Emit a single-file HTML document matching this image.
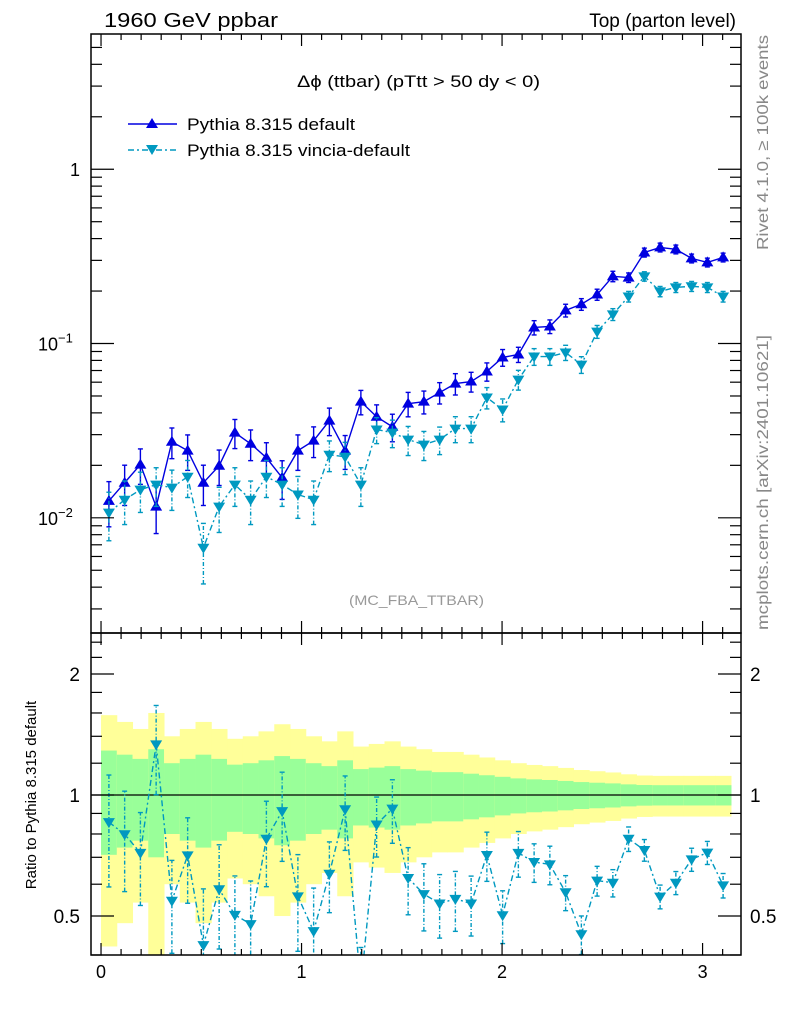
<!DOCTYPE html>
<html><head><meta charset="utf-8"><style>
html,body{margin:0;padding:0;background:#fff;}
svg{display:block;font-family:"Liberation Sans",sans-serif;}
</style></head><body>
<svg id="chart" width="786" height="1024" viewBox="0 0 786 1024" xmlns="http://www.w3.org/2000/svg">
<text x="104" y="27" font-size="20" textLength="174" lengthAdjust="spacingAndGlyphs">1960 GeV ppbar</text>
<text x="736" y="27" font-size="19" text-anchor="end">Top (parton level)</text>
<text x="297" y="87" font-size="17" textLength="243" lengthAdjust="spacingAndGlyphs">Δϕ (ttbar) (pTtt &gt; 50 dy &lt; 0)</text>
<text x="349" y="605" font-size="14" fill="#999" textLength="135" lengthAdjust="spacingAndGlyphs">(MC_FBA_TTBAR)</text>
<text transform="translate(768,250) rotate(-90)" font-size="16" fill="#888" textLength="215" lengthAdjust="spacingAndGlyphs">Rivet 4.1.0, ≥ 100k events</text>
<text transform="translate(768,630) rotate(-90)" font-size="16" fill="#888" textLength="295" lengthAdjust="spacingAndGlyphs">mcplots.cern.ch [arXiv:2401.10621]</text>
<text transform="translate(36,795) rotate(-90)" font-size="15" text-anchor="middle">Ratio to Pythia 8.315 default</text>
<g id="legend">
 <g>
  <line x1="128" y1="124" x2="177" y2="124" stroke="#0000e0" stroke-width="1.5"/>
  <polygon points="152,118 146,128 158,128" fill="#0000e0"/>
  <text x="187" y="130" font-size="17" textLength="168" lengthAdjust="spacingAndGlyphs">Pythia 8.315 default</text>
 </g>
 <g>
  <line x1="128" y1="150" x2="177" y2="150" stroke="#0099c0" stroke-width="1.5" stroke-dasharray="6,3,2,3"/>
  <polygon points="146,145 158,145 152,155" fill="#0099c0"/>
  <text x="187" y="156" font-size="17" textLength="223" lengthAdjust="spacingAndGlyphs">Pythia 8.315 vincia-default</text>
 </g>
</g>
<g id="plot"></g>
</svg>
<script>
const binCount = [40];
const xTicks = [0, 1, 2, 3];
const mainYTickLabels = ["1", "10", "10"];
const defaultVals = [0.0125,0.0159,0.0202,0.0116,0.0273,0.0243,0.0159,0.0199,0.0308,0.0266,0.0221,0.0170,0.0243,0.0277,0.0361,0.0243,0.0464,0.0380,0.0333,0.0452,0.0464,0.0523,0.0589,0.0605,0.0691,0.0832,0.0865,0.1236,0.1253,0.155,0.168,0.191,0.243,0.239,0.333,0.356,0.347,0.308,0.292,0.312];
const vinciaVals = [0.0107,0.0127,0.0145,0.0155,0.0149,0.0172,0.00673,0.0116,0.0155,0.0127,0.0172,0.0155,0.0136,0.0127,0.0230,0.0224,0.0155,0.0321,0.0308,0.0281,0.0263,0.0281,0.0325,0.0325,0.0490,0.0418,0.0621,0.0842,0.0842,0.0888,0.0757,0.117,0.147,0.186,0.243,0.199,0.210,0.213,0.210,0.186];
const defaultRelErr = [0.29,0.26,0.23,0.30,0.20,0.23,0.26,0.23,0.19,0.20,0.22,0.25,0.23,0.20,0.18,0.22,0.16,0.17,0.18,0.16,0.15,0.14,0.14,0.13,0.12,0.11,0.10,0.094,0.09,0.084,0.077,0.073,0.069,0.063,0.059,0.058,0.058,0.058,0.058,0.058];
const vinciaRelErr = [0.31,0.28,0.26,0.25,0.26,0.24,0.38,0.29,0.25,0.28,0.24,0.25,0.27,0.28,0.2,0.21,0.25,0.17,0.18,0.19,0.19,0.18,0.17,0.17,0.14,0.15,0.13,0.11,0.11,0.1,0.11,0.085,0.078,0.07,0.062,0.068,0.066,0.066,0.066,0.07];

const NS = "http://www.w3.org/2000/svg";
const L = 91, R = 741, T = 34, MB = 633, RB = 955;
const xMin = -0.05, xMax = Math.PI + 0.05;
const sx = v => L + (v - xMin) / (xMax - xMin) * (R - L);
const yMainTop = 0.776, yMainBot = -2.661;
const sy = v => T + (yMainTop - Math.log10(v)) / (yMainTop - yMainBot) * (MB - T);
const rTop = 1.339, rBot = -1.322;
const sr = v => MB + (rTop - Math.log2(v)) / (rTop - rBot) * (RB - MB);
const plot = document.getElementById('plot');
function mk(tag, attrs, parent) {
  const e = document.createElementNS(NS, tag);
  for (const k in attrs) e.setAttribute(k, attrs[k]);
  (parent || plot).appendChild(e);
  return e;
}
const N = binCount[0];
const bw = Math.PI / N;
const centers = [];
for (let i = 0; i < N; i++) centers.push((i + 0.5) * bw);

const defs = mk('defs', {});
const c1 = mk('clipPath', {id: 'cm'}, defs); mk('rect', {x: L, y: T, width: R - L, height: MB - T}, c1);
const c2 = mk('clipPath', {id: 'cr'}, defs); mk('rect', {x: L, y: MB, width: R - L, height: RB - MB}, c2);

const bands = mk('g', {'clip-path': 'url(#cr)'});


for (let i = 0; i < N; i++) {
  const x0 = sx(i * bw), x1 = sx((i + 1) * bw);
  const s = defaultRelErr[i];
  const y2a = sr(1 + 2 * s), y2b = sr(Math.max(1 - 2 * s, 0.01));
  const yb = mk('rect', {x: x0, y: y2a, width: x1 - x0 + 0.5, height: y2b - y2a, fill: '#ffff99'}, bands);
  
  
  const g1 = sr(1 + s), g2 = sr(1 - s);
  const gb = mk('rect', {x: x0, y: g1, width: x1 - x0 + 0.5, height: g2 - g1, fill: '#99ff99'}, bands);
  
  
}
const refLine = mk('line', {x1: L, x2: R, y1: sr(1), y2: sr(1), stroke: '#000', 'stroke-width': 1.3});



function series(vals, errs, scale, clip, color, dash, up, name) {
  const g = mk('g', {'clip-path': clip});
  
  
  const pts = vals.map((v, i) => sx(centers[i]) + ',' + scale(v)).join(' ');
  const attrs = {points: pts, fill: 'none', stroke: color, 'stroke-width': 1.4};
  if (dash) attrs['stroke-dasharray'] = dash;
  const pl = mk('polyline', attrs, g);
  
  
  vals.forEach((v, i) => {
    const x = sx(centers[i]);
    const lo = scale(Math.max(v * (1 - errs[i]), 1e-5)), hi = scale(v * (1 + errs[i]));
    const ea = {x1: x, x2: x, y1: lo, y2: hi, stroke: color, 'stroke-width': 1.4};
    if (dash) ea['stroke-dasharray'] = '4,2,1,2';
    const eb = mk('line', ea, g);
    
    
    mk('line', {x1: x - 2.5, x2: x + 2.5, y1: lo, y2: lo, stroke: color, 'stroke-width': 1.4}, g);
    mk('line', {x1: x - 2.5, x2: x + 2.5, y1: hi, y2: hi, stroke: color, 'stroke-width': 1.4}, g);
    const y = scale(v);
    const p = up ? `${x},${y - 6} ${x - 6},${y + 4} ${x + 6},${y + 4}` : `${x - 6},${y - 4} ${x + 6},${y - 4} ${x},${y + 6}`;
    const m = mk('polygon', {points: p, fill: color}, g);
    
    
  });
}
series(defaultVals, defaultRelErr, sy, 'url(#cm)', '#0000e0', null, true, 'default-series');
series(vinciaVals, vinciaRelErr, sy, 'url(#cm)', '#0099c0', '6,3,2,3', false, 'vincia-series');
const ratios = vinciaVals.map((v, i) => v / defaultVals[i]);
series(ratios, vinciaRelErr, sr, 'url(#cr)', '#0099c0', '6,3,2,3', false, 'ratio-series');

const f1 = mk('rect', {x: L, y: T, width: R - L, height: MB - T, fill: 'none', stroke: '#000', 'stroke-width': 1.5});


const f2 = mk('rect', {x: L, y: MB, width: R - L, height: RB - MB, fill: 'none', stroke: '#000', 'stroke-width': 1.5});



const ax = mk('g', {stroke: '#000', 'stroke-width': 1.2});


for (let k = 0; k <= 31; k++) {
  const v = k / 10, x = sx(v);
  const len = (k % 10 === 0) ? 12 : 6;
  [[T, 1], [MB, -1], [MB, 1], [RB, -1]].forEach(([y0, d]) => mk('line', {x1: x, x2: x, y1: y0, y2: y0 + d * len}, ax));
}
xTicks.forEach(v => {
  const t = mk('text', {x: sx(v), y: 978, 'font-size': 18, 'text-anchor': 'middle', stroke: 'none'});
  t.textContent = String(v);
  
  
});
for (let d = -3; d <= 0; d++) {
  for (let m = 1; m <= 9; m++) {
    const v = m * Math.pow(10, d), y = sy(v);
    if (y < T || y > MB) continue;
    const len = m === 1 ? 23 : 11;
    mk('line', {x1: L, x2: L + len, y1: y, y2: y}, ax);
    mk('line', {x1: R, x2: R - len, y1: y, y2: y}, ax);
  }
}
const decades = [0, -1, -2];
decades.forEach((d, i) => {
  const y = sy(Math.pow(10, d));
  const t = mk('text', {x: 80, y: y + 7, 'font-size': 18, 'text-anchor': 'end', stroke: 'none'});
  
  
  t.textContent = mainYTickLabels[i];
  if (d !== 0) {
    const s = mk('tspan', {dy: -8, 'font-size': 13}, t);
    s.textContent = '−' + (-d);
    t.setAttribute('text-anchor', 'start');
    t.setAttribute('x', 38);
  }
});
const rTicks = [0.4, 0.5, 0.6, 0.7, 0.8, 0.9, 1, 1.2, 1.4, 1.6, 1.8, 2, 2.2, 2.4];
const rMajor = [0.5, 1, 2];
rTicks.forEach(v => {
  const y = sr(v);
  const len = rMajor.includes(v) ? 23 : 11;
  mk('line', {x1: L, x2: L + len, y1: y, y2: y}, ax);
  mk('line', {x1: R, x2: R - len, y1: y, y2: y}, ax);
});
const rLabels = ["2", "1", "0.5"];
rMajor.slice().reverse().forEach((v, i) => {
  const y = sr(v) + 7;
  const t1 = mk('text', {x: 80, y: y, 'font-size': 19, 'text-anchor': 'end', stroke: 'none'});
  t1.textContent = rLabels[i];
  
  
  const t2 = mk('text', {x: 750, y: y, 'font-size': 19, 'text-anchor': 'start', stroke: 'none'});
  t2.textContent = rLabels[i];
  
  
});
</script>
</body></html>
